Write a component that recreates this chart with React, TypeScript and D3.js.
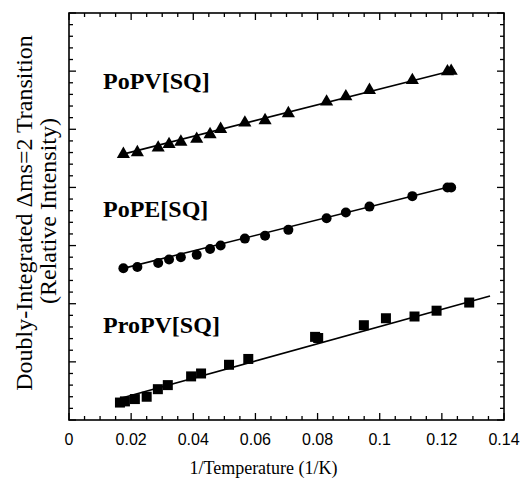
import React from "react";
import * as d3 from "d3";

// ---- data ----
const triX = [0.0175, 0.022, 0.0287, 0.0322, 0.036, 0.0411, 0.0454, 0.0488, 0.0566, 0.0631, 0.0706, 0.0829, 0.0891, 0.0967, 0.1105, 0.1218, 0.1230];
const triY = [4.59, 4.62, 4.70, 4.76, 4.80, 4.85, 4.93, 5.02, 5.13, 5.17, 5.29, 5.49, 5.58, 5.69, 5.86, 6.01, 6.02];

const cirX = [0.0175, 0.022, 0.0287, 0.0322, 0.036, 0.0411, 0.0454, 0.0488, 0.0566, 0.0631, 0.0706, 0.0829, 0.0891, 0.0967, 0.1105, 0.1218, 0.1230];
const cirY = [2.61, 2.63, 2.70, 2.76, 2.80, 2.84, 2.94, 3.00, 3.12, 3.17, 3.27, 3.47, 3.57, 3.67, 3.85, 4.00, 4.00];

const sqX = [0.0164, 0.0180, 0.0212, 0.0250, 0.0286, 0.0318, 0.0393, 0.0425, 0.0515, 0.0577, 0.0792, 0.0802, 0.0949, 0.1020, 0.1112, 0.1183, 0.1288];
const sqY = [0.30, 0.32, 0.36, 0.40, 0.53, 0.60, 0.75, 0.80, 0.95, 1.05, 1.43, 1.41, 1.63, 1.75, 1.78, 1.88, 2.02];

// fitted lines: [x0, x1], [y0, y1]
const triFitX = [0.0165, 0.1242];
const triFitY = [4.56, 6.02];
const cirFitX = [0.0165, 0.1225];
const cirFitY = [2.595, 4.01];
const sqFitX = [0.0164, 0.1355];
const sqFitY = [0.37, 2.133];

const seriesLabels = ["PoPV[SQ]", "PoPE[SQ]", "ProPV[SQ]"];
const labelY = [5.7, 3.5, 1.5];
const xTickValues = [0, 0.02, 0.04, 0.06, 0.08, 0.1, 0.12, 0.14];
const xTickLabels = ["0", "0.02", "0.04", "0.06", "0.08", "0.1", "0.12", "0.14"];
const xTitle = "1/Temperature (1/K)";
const yTitle1 = "Doubly-Integrated \u0394ms=2 Transition";
const yTitle2 = "(Relative Intensity)";

const W = 522;
const H = 479;
const L = 69, R = 504, T = 13, B = 420;

export default function App() {
  const x = d3.scaleLinear().domain([0, 0.14]).range([L, R]);
  const y = d3.scaleLinear().domain([0, 7]).range([B, T]);

  const xMinor = d3.range(0, 0.14 + 1e-9, 0.005);
  const yMinor = d3.range(0, 7 + 1e-9, 0.2);
  const line = d3.line<[number, number]>().x((d) => x(d[0])).y((d) => y(d[1]));

  const fits = [
    [triFitX, triFitY],
    [cirFitX, cirFitY],
    [sqFitX, sqFitY],
  ];

  const triPath = d3.symbol(d3.symbolTriangle, 75)()!;
  const serif = "'Liberation Serif', 'Times New Roman', serif";
  const sans = "'Liberation Sans', Arial, sans-serif";

  const isMajorX = (v: number) => Math.abs(v / 0.02 - Math.round(v / 0.02)) < 1e-6;
  const isMajorY = (v: number) => Math.abs(v - Math.round(v)) < 1e-6;

  return (
    <svg width={W} height={H} style={{ position: "absolute", left: 0, top: 0, background: "#fff" }}>
      <rect x={0} y={0} width={W} height={H} fill="#fff" />
      {/* ticks */}
      <g stroke="#000" strokeWidth={1.3}>
        {xMinor.map((v, i) => {
          const len = isMajorX(v) ? 7 : 4;
          return (
            <g key={"xt" + i}>
              <line x1={x(v)} x2={x(v)} y1={B} y2={B - len} />
              <line x1={x(v)} x2={x(v)} y1={T} y2={T + len} />
            </g>
          );
        })}
        {yMinor.map((v, i) => {
          const len = isMajorY(v) ? 7 : 4;
          return (
            <g key={"yt" + i}>
              <line x1={L} x2={L + len} y1={y(v)} y2={y(v)} />
              <line x1={R} x2={R - len} y1={y(v)} y2={y(v)} />
            </g>
          );
        })}
      </g>
      <rect x={L} y={T} width={R - L} height={B - T} fill="none" stroke="#000" strokeWidth={1.6} />

      {/* tick labels */}
      <g fontFamily={sans} fontSize={16} textAnchor="middle" fill="#000">
        {xTickValues.map((v, i) => (
          <text key={"xl" + i} x={x(v)} y={445}>
            {xTickLabels[i]}
          </text>
        ))}
      </g>
      <text x={(L + R) / 2 - 23} y={474} fontFamily={serif} fontSize={18} textAnchor="middle">
        {xTitle}
      </text>
      <g fontFamily={serif} fontSize={24} textAnchor="middle">
        <text transform={`translate(32,213) rotate(-90)`}>{yTitle1}</text>
        <text transform={`translate(56,211) rotate(-90)`}>{yTitle2}</text>
      </g>

      {/* fit lines */}
      {fits.map((f, i) => (
        <path
          key={"fit" + i}
          d={line([
            [f[0][0], f[1][0]],
            [f[0][1], f[1][1]],
          ])!}
          fill="none"
          stroke="#000"
          strokeWidth={1.6}
        />
      ))}

      {/* markers */}
      {triX.map((v, i) => (
        <path key={"tr" + i} d={triPath} transform={`translate(${x(v)},${y(triY[i]) + 1})`} fill="#000" />
      ))}
      {cirX.map((v, i) => (
        <circle key={"ci" + i} cx={x(v)} cy={y(cirY[i])} r={5} fill="#000" />
      ))}
      {sqX.map((v, i) => (
        <rect key={"sq" + i} x={x(v) - 5} y={y(sqY[i]) - 5} width={10} height={10} fill="#000" />
      ))}

      {/* series labels */}
      <g fontFamily={serif} fontSize={24} fontWeight="bold">
        {seriesLabels.map((s, i) => (
          <text key={"sl" + i} x={103} y={y(labelY[i])}>
            {s}
          </text>
        ))}
      </g>
    </svg>
  );
}
